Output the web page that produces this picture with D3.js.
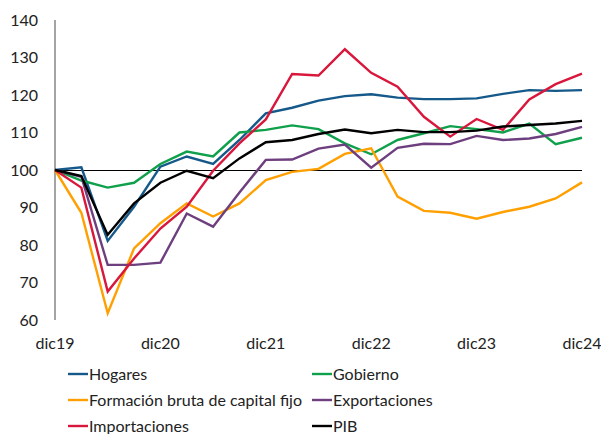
<!DOCTYPE html>
<html>
<head>
<meta charset="utf-8">
<script src="https://cdn.jsdelivr.net/npm/d3@7"></script>
<style>
  body { margin: 0; background: #fff; }
  text { font-family: Lato, "Open Sans", sans-serif; fill: #222; }
</style>
</head>
<body>
<svg id="chart"></svg>
<script>
const width = 601
const height = 434

// trimestres dic19 .. dic24
const quarters = d3.range(21)
const tickLabels = ["dic19", "dic20", "dic21", "dic22", "dic23", "dic24"]
const yTicks = [60, 70, 80, 90, 100, 110, 120, 130, 140]

const hogares = [100, 100.7, 81.1, 90.2, 100.9, 103.6, 101.6, 108, 115.1, 116.6, 118.5, 119.7, 120.2, 119.3, 118.9, 118.9, 119.1, 120.3, 121.3, 121.1, 121.3]
const gobierno = [100, 97.2, 95.3, 96.6, 101.6, 104.9, 103.6, 110, 110.7, 111.9, 110.9, 107.1, 104.2, 108, 109.8, 111.7, 110.9, 110, 112.4, 106.9, 108.6]
const fbkf = [100, 88.6, 61.8, 79.1, 85.8, 91.1, 87.6, 91.1, 97.3, 99.5, 100.3, 104.3, 105.8, 92.9, 89.1, 88.6, 87, 88.8, 90.2, 92.4, 96.7]
const exportaciones = [100, 98.2, 74.7, 74.7, 75.3, 88.4, 84.9, 94, 102.7, 102.8, 105.7, 106.8, 100.6, 105.9, 107, 106.9, 109.1, 108, 108.4, 109.6, 111.5]
const importaciones = [100, 95.3, 67.6, 76.4, 84.4, 90.2, 99.8, 107.1, 113.5, 125.6, 125.2, 132.2, 125.9, 122.2, 114.2, 108.9, 113.6, 110.7, 118.8, 122.9, 125.7]
const pib = [100, 98.4, 82.7, 91.1, 96.6, 99.8, 97.8, 103.1, 107.4, 108, 109.6, 110.8, 109.8, 110.7, 110.1, 110.1, 110.5, 111.6, 112, 112.4, 113.1]

const series = [
  { name: "Hogares", values: hogares, color: "#15598a" },
  { name: "Gobierno", values: gobierno, color: "#10a04c" },
  { name: "Formación bruta de capital fijo", values: fbkf, color: "#ffa000" },
  { name: "Exportaciones", values: exportaciones, color: "#6e3f7e" },
  { name: "Importaciones", values: importaciones, color: "#d9163c" },
  { name: "PIB", values: pib, color: "#000000" }
]

const x = d3.scaleLinear().domain([0, 20]).range([55, 582])
const y = d3.scaleLinear().domain([60, 140]).range([320, 20])

const svg = d3.select("#chart")
              .attr("width", width)
              .attr("height", height)

// eje Y
svg.append("line")
   .attr("x1", x(0)).attr("x2", x(0))
   .attr("y1", y(140)).attr("y2", y(60))
   .attr("stroke", "#868686")
   .attr("stroke-width", 1.5)

svg.append("g")
   .selectAll("text")
   .data(yTicks)
   .join("text")
     .attr("x", 38)
     .attr("y", d => y(d))
     .attr("dy", "0.35em")
     .attr("text-anchor", "end")
     .attr("font-size", 16)
     .text(d => d)

// eje X (cruza en 100)
svg.append("line")
   .attr("x1", x(0)).attr("x2", x(20))
   .attr("y1", y(100) + 0.5).attr("y2", y(100) + 0.5)
   .attr("stroke", "#000")
   .attr("stroke-width", 1)
   .attr("shape-rendering", "crispEdges")

svg.append("g")
   .selectAll("text")
   .data(tickLabels)
   .join("text")
     .attr("x", (d, i) => x(i * 4))
     .attr("y", 343)
     .attr("dy", "0.35em")
     .attr("text-anchor", "middle")
     .attr("font-size", 16)
     .text(d => d)

const line = d3.line()
               .x((d, i) => x(quarters[i]))
               .y(d => y(d))

svg.append("g")
   .selectAll("path")
   .data(series)
   .join("path")
     .attr("d", d => line(d.values))
     .attr("fill", "none")
     .attr("stroke", d => d.color)
     .attr("stroke-width", 2.4)
     .attr("stroke-linejoin", "miter")

// leyenda
const legend = svg.append("g")
                  .selectAll("g")
                  .data(series)
                  .join("g")
                  .attr("transform", (d, i) => `translate(${i % 2 ? 312 : 68},${374 + Math.floor(i / 2) * 26})`)

legend.append("line")
      .attr("x1", 0).attr("x2", 20)
      .attr("stroke", d => d.color)
      .attr("stroke-width", 2.4)

legend.append("text")
      .attr("x", 21)
      .attr("dy", "0.35em")
      .attr("font-size", 16)
      .text(d => d.name)
</script>
</body>
</html>
